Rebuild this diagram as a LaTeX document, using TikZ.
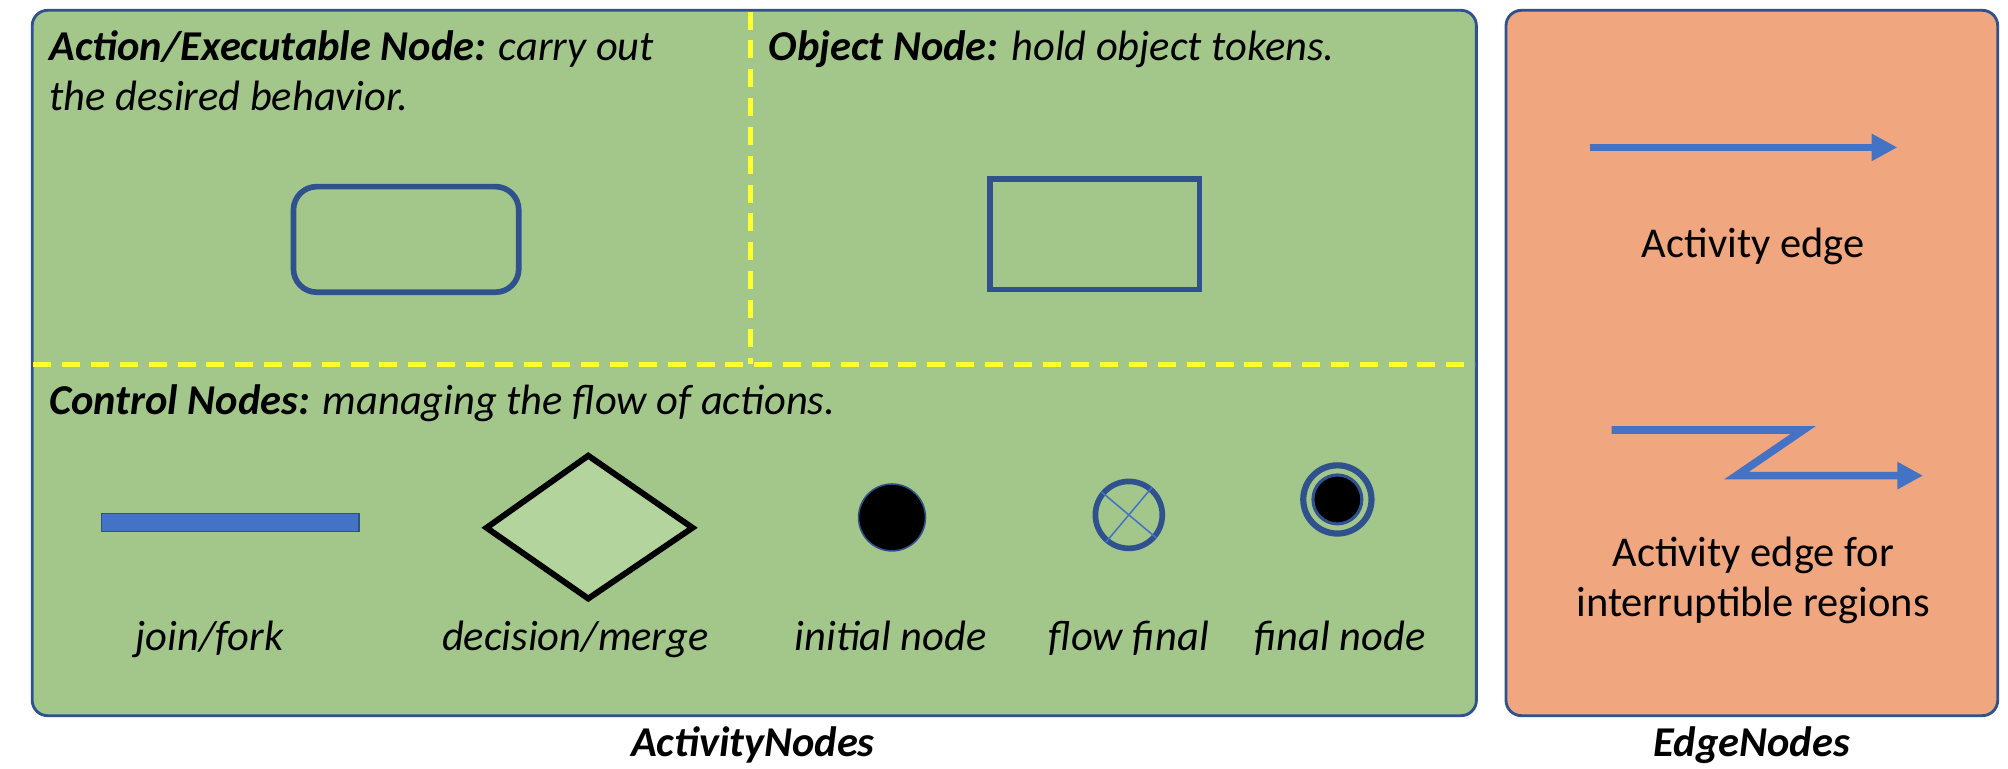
\documentclass[tikz,border=0pt]{standalone}
\usepackage{fontspec}
\setmainfont{Carlito}
\usetikzlibrary{arrows.meta}
\definecolor{panelgreen}{HTML}{A3C78A}
\definecolor{panelorange}{HTML}{F0A67E}
\definecolor{darkblue}{HTML}{2F528F}
\definecolor{midblue}{HTML}{4472C4}
\definecolor{lightgreen}{HTML}{B3D49C}
\definecolor{divider}{HTML}{FFFF2E}
\tikzset{
  panel/.style={draw=darkblue, line width=1.1pt, rounded corners=6pt},
  divline/.style={draw=divider, line width=1.8pt, dash pattern=on 7pt off 4.2pt},
  shapeline/.style={draw=darkblue, line width=2.2pt},
  txt/.style={inner sep=0pt, font=\fontsize{16.5}{19.5}\selectfont},
  edgearrow/.style={draw=midblue, line width=3pt, -{Triangle[length=10pt,width=10pt]}},
}
\begin{document}
\begin{tikzpicture}[x=0.5pt,y=-0.5pt]
\useasboundingbox (0,0) rectangle (1560,596.7);
% panels
\draw[panel, fill=panelgreen] (25,8) rectangle (1147,556);
\draw[panel, fill=panelorange] (1170,8) rectangle (1552,556);
% dividers
\coordinate (vtop) at (583,9);
\coordinate (vbot) at (583,283);
\coordinate (hl) at (26,283);
\coordinate (hr) at (1146,283);
\draw[divline] (vtop) -- (vbot);
\draw[divline] (hl) -- (hr);
% section headings
\node[txt, anchor=base west] (acttxt) at (38,47)
  {\textbf{\textit{Action/Executable Node:}} \textit{carry out}};
\node[txt, anchor=base west] (acttxtb) at (38,86)
  {\textit{the desired behavior.}};
\node[txt, anchor=base west] (objtxt) at (597,47)
  {\textbf{\textit{Object Node:}} \textit{hold object tokens.}};
\node[txt, anchor=base west] (ctrltxt) at (38,322)
  {\textbf{\textit{Control Nodes:}} \textit{managing the flow of actions.}};
% action and object node shapes
\draw[shapeline, rounded corners=9pt] (228,145) rectangle (403,227);
\draw[shapeline] (769,139) rectangle (932,225);
% control nodes
\draw[draw=darkblue, line width=0.5pt, fill=midblue] (79,399) rectangle (279,413);
\draw[draw=black, line width=2.3pt, fill=lightgreen, line join=miter]
  (378,410) -- (457,354) -- (538,410) -- (457,465) -- cycle;
\node[circle, minimum size=52pt*0.5, inner sep=0pt, fill=black, draw=darkblue, line width=0.6pt] (init) at (693,402) {};
\node[circle, minimum size=52pt*0.5, inner sep=0pt, draw=darkblue, line width=2.2pt] (flowfin) at (877,400) {};
\draw[midblue, line width=0.6pt] (flowfin.140) -- (flowfin.-40);
\draw[midblue, line width=0.6pt] (flowfin.50) -- (flowfin.230);
\node[circle, minimum size=53pt*0.5, inner sep=0pt, draw=darkblue, line width=2.4pt] (finout) at (1039,388) {};
\node[circle, minimum size=38pt*0.5, inner sep=0pt, fill=black, draw=darkblue, line width=1.2pt] (finin) at (1039,388) {};
% control node labels
\node[txt, anchor=base] (l1) at (163,505) {\textit{join/fork}};
\node[txt, anchor=base] (l2) at (447,505) {\textit{decision/merge}};
\node[txt, anchor=base] (l3) at (692,505) {\textit{initial node}};
\node[txt, anchor=base] (l4) at (877,505) {\textit{flow final}};
\node[txt, anchor=base] (l5) at (1041,505) {\textit{final node}};
% edges panel
\coordinate (e1s) at (1235,114.5);
\coordinate (e1e) at (1474,114.5);
\draw[edgearrow] (e1s) -- (e1e);
\node[txt, anchor=base] (e1t) at (1362,200) {Activity edge};
\coordinate (e2a) at (1252,334);
\coordinate (e2b) at (1401,334);
\coordinate (e2c) at (1349,369.5);
\coordinate (e2d) at (1494,369.5);
\draw[edgearrow, line join=miter] (e2a) -- (e2b) -- (e2c) -- (e2d);
\node[txt, anchor=base] (e2t) at (1362,440) {Activity edge for};
\node[txt, anchor=base] (e2tb) at (1362,479) {interruptible regions};
% captions
\node[txt, anchor=base] (cap1) at (585,588) {\textbf{\textit{ActivityNodes}}};
\node[txt, anchor=base] (cap2) at (1361,588) {\textbf{\textit{EdgeNodes}}};
\end{tikzpicture}
\end{document}
